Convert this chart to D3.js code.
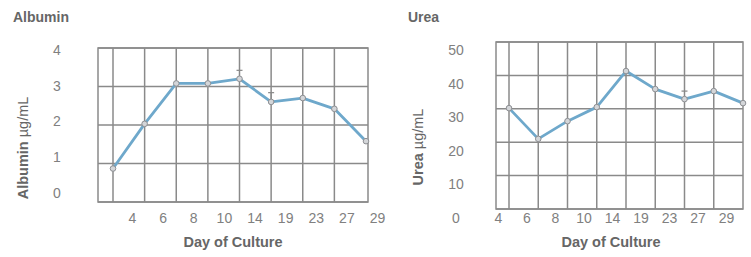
<!DOCTYPE html>
<html>
<head>
<meta charset="utf-8">
<script src="https://cdn.jsdelivr.net/npm/d3@7"></script>
<style>
  body { margin: 0; background: #fff; }
  svg { font-family: "Liberation Sans", Arial, sans-serif; }
</style>
</head>
<body>
<svg id="chart" width="751" height="257"></svg>
<script>
// day labels shared by both panels
var days = ["4", "6", "8", "10", "14", "19", "23", "27", "29"];

// albumin (ug/mL)
var albuminValues = [0.87, 2.03, 3.08, 3.08, 3.2, 2.6, 2.7, 2.42, 1.58];
var albuminErrTop = [null, null, null, null, 3.42, 2.84, null, null, null];
var albuminTicks = [0, 1, 2, 3, 4];

// urea (ug/mL)
var ureaValues = [30.2, 21, 26.3, 30.5, 41.3, 35.9, 32.9, 35.3, 31.7];
var ureaErrTop = [null, null, null, null, null, null, 35.3, null, null];
var ureaTicks = [0, 10, 20, 30, 40, 50];

var svg = d3.select("#chart");

var lineColor = "#6ea8cb";
var gridColor = "#8a8a8a";
var tickColor = "#808080";
var titleColor = "#666";

/**
 * draws one panel; positions are passed in a config object
 */
function drawPanel(cfg) {
    var g = svg.append("g");

    // data scales
    var x = d3.scalePoint().domain(days).range(cfg.pointRange);
    var y = d3.scaleLinear().domain(cfg.yDomain).range([cfg.bottom, cfg.top]);
    // the tick labels sit a little off the grid in the original
    var xLab = d3.scalePoint().domain(days).range(cfg.xLabelRange);
    var yLab = d3.scaleLinear().domain(cfg.yDomain).range(cfg.yLabelRange);

    // horizontal grid
    g.selectAll(".hgrid")
        .data(cfg.ticks)
        .enter()
        .append("line")
        .attr("x1", cfg.left)
        .attr("x2", cfg.right)
        .attr("y1", d => y(d))
        .attr("y2", d => y(d))
        .attr("stroke", gridColor)
        .attr("stroke-width", 1.5);

    // vertical grid at each day except the last (it falls on the frame)
    g.selectAll(".vgrid")
        .data(days.slice(0, -1))
        .enter()
        .append("line")
        .attr("x1", d => x(d))
        .attr("x2", d => x(d))
        .attr("y1", cfg.top)
        .attr("y2", cfg.bottom)
        .attr("stroke", gridColor)
        .attr("stroke-width", 1.5);

    // frame
    g.append("rect")
        .attr("x", cfg.left)
        .attr("y", cfg.top)
        .attr("width", cfg.right - cfg.left)
        .attr("height", cfg.bottom - cfg.top)
        .attr("fill", "none")
        .attr("stroke", gridColor)
        .attr("stroke-width", 1.5);

    // y axis labels
    var yAxis = g.append("g")
        .attr("transform", "translate(" + cfg.yLabelX + ",0)")
        .call(d3.axisLeft(yLab).tickValues(cfg.ticks).tickFormat(d3.format("d")).tickSize(0).tickPadding(0));
    yAxis.select(".domain").remove();
    yAxis.selectAll("text")
        .attr("fill", tickColor)
        .style("font-size", "14px")
        .style("text-anchor", "middle");

    // x axis labels
    var xAxis = g.append("g")
        .attr("transform", "translate(0," + cfg.xLabelY + ")")
        .call(d3.axisBottom(xLab).tickSize(0).tickPadding(0));
    xAxis.select(".domain").remove();
    xAxis.selectAll("text")
        .attr("fill", tickColor)
        .style("font-size", "14px");

    var data = days.map((d, i) => ({ day: d, v: cfg.values[i], err: cfg.errTop[i] }));

    // error bars
    var errs = data.filter(d => d.err !== null);
    g.selectAll(".err")
        .data(errs)
        .enter()
        .append("line")
        .attr("x1", d => x(d.day))
        .attr("x2", d => x(d.day))
        .attr("y1", d => y(d.v))
        .attr("y2", d => y(d.err))
        .attr("stroke", "#888")
        .attr("stroke-width", 1);
    g.selectAll(".cap")
        .data(errs)
        .enter()
        .append("line")
        .attr("x1", d => x(d.day) - 3)
        .attr("x2", d => x(d.day) + 3)
        .attr("y1", d => y(d.err))
        .attr("y2", d => y(d.err))
        .attr("stroke", "#888")
        .attr("stroke-width", 1.2);

    // the line
    var line = d3.line()
        .x(d => x(d.day))
        .y(d => y(d.v));
    g.append("path")
        .datum(data)
        .attr("d", line)
        .attr("fill", "none")
        .attr("stroke", lineColor)
        .attr("stroke-width", 2.8)
        .attr("stroke-linejoin", "round");

    // markers
    g.selectAll(".dot")
        .data(data)
        .enter()
        .append("circle")
        .attr("cx", d => x(d.day))
        .attr("cy", d => y(d.v))
        .attr("r", 2.8)
        .attr("fill", "#d4d6d9")
        .attr("stroke", "#8d8f93")
        .attr("stroke-width", 1);

    // panel title
    g.append("text")
        .attr("x", cfg.titleX)
        .attr("y", 22)
        .attr("fill", titleColor)
        .attr("font-weight", "bold")
        .style("font-size", "14px")
        .text(cfg.title);

    // x title
    g.append("text")
        .attr("x", cfg.xTitleX)
        .attr("y", 247)
        .attr("fill", titleColor)
        .attr("font-weight", "bold")
        .attr("text-anchor", "middle")
        .style("font-size", "14.5px")
        .text("Day of Culture");

    // y title, bold name then unit
    var yt = g.append("text")
        .attr("transform", "translate(" + cfg.yTitleX + "," + cfg.yTitleY + ") rotate(-90)")
        .attr("text-anchor", "middle")
        .attr("fill", titleColor)
        .style("font-size", "14.5px");
    yt.append("tspan").attr("font-weight", "bold").text(cfg.title);
    yt.append("tspan").text(" \u00b5g/mL");
}

drawPanel({
    title: "Albumin",
    values: albuminValues,
    errTop: albuminErrTop,
    ticks: albuminTicks,
    yDomain: [0, 4],
    left: 98, right: 368, top: 48, bottom: 202,
    pointRange: [113, 366],
    xLabelRange: [132, 377],
    xLabelY: 213,
    yLabelRange: [193, 50],
    yLabelX: 57,
    titleX: 13,
    xTitleX: 233,
    yTitleX: 28,
    yTitleY: 148
});

drawPanel({
    title: "Urea",
    values: ureaValues,
    errTop: ureaErrTop,
    ticks: ureaTicks,
    yDomain: [0, 50],
    left: 496, right: 743, top: 42, bottom: 209,
    pointRange: [509, 743],
    xLabelRange: [498, 726],
    xLabelY: 213,
    yLabelRange: [218, 50],
    yLabelX: 456,
    titleX: 408,
    xTitleX: 611,
    yTitleX: 423,
    yTitleY: 147
});
</script>
</body>
</html>
